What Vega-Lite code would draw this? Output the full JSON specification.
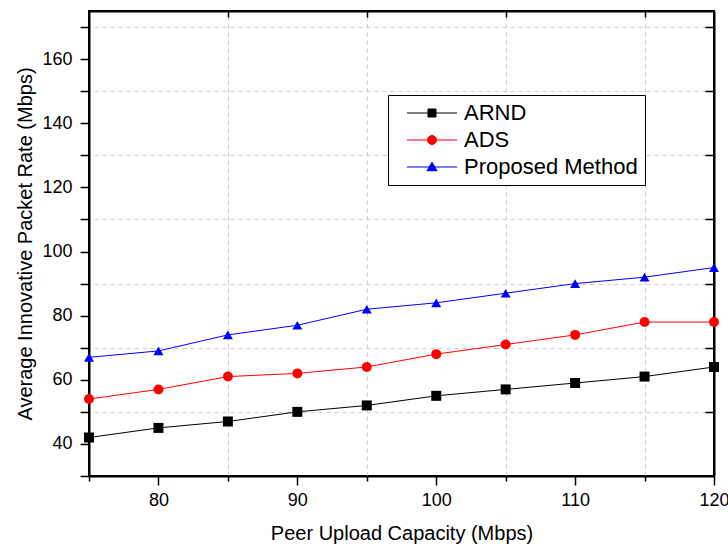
{
  "$schema": "https://vega.github.io/schema/vega-lite/v6.json",
  "width": 625,
  "height": 465,
  "autosize": {"type": "none"},
  "padding": {"left": 89, "top": 11, "right": 14, "bottom": 71},
  "background": "white",
  "config": {
    "font": "Liberation Sans",
    "view": {"stroke": "black", "strokeWidth": 2}
  },
  "data": {
    "values": [
      {"cap": 75, "rate": 42, "series": "ARND"},
      {"cap": 80, "rate": 45, "series": "ARND"},
      {"cap": 85, "rate": 47, "series": "ARND"},
      {"cap": 90, "rate": 50, "series": "ARND"},
      {"cap": 95, "rate": 52, "series": "ARND"},
      {"cap": 100, "rate": 55, "series": "ARND"},
      {"cap": 105, "rate": 57, "series": "ARND"},
      {"cap": 110, "rate": 59, "series": "ARND"},
      {"cap": 115, "rate": 61, "series": "ARND"},
      {"cap": 120, "rate": 64, "series": "ARND"},
      {"cap": 75, "rate": 54, "series": "ADS"},
      {"cap": 80, "rate": 57, "series": "ADS"},
      {"cap": 85, "rate": 61, "series": "ADS"},
      {"cap": 90, "rate": 62, "series": "ADS"},
      {"cap": 95, "rate": 64, "series": "ADS"},
      {"cap": 100, "rate": 68, "series": "ADS"},
      {"cap": 105, "rate": 71, "series": "ADS"},
      {"cap": 110, "rate": 74, "series": "ADS"},
      {"cap": 115, "rate": 78, "series": "ADS"},
      {"cap": 120, "rate": 78, "series": "ADS"},
      {"cap": 75, "rate": 67, "series": "Proposed Method"},
      {"cap": 80, "rate": 69, "series": "Proposed Method"},
      {"cap": 85, "rate": 74, "series": "Proposed Method"},
      {"cap": 90, "rate": 77, "series": "Proposed Method"},
      {"cap": 95, "rate": 82, "series": "Proposed Method"},
      {"cap": 100, "rate": 84, "series": "Proposed Method"},
      {"cap": 105, "rate": 87, "series": "Proposed Method"},
      {"cap": 110, "rate": 90, "series": "Proposed Method"},
      {"cap": 115, "rate": 92, "series": "Proposed Method"},
      {"cap": 120, "rate": 95, "series": "Proposed Method"}
    ]
  },
  "layer": [
    {
      "mark": {"type": "line", "strokeWidth": 1, "clip": true},
      "encoding": {
        "x": {
          "field": "cap", "type": "quantitative",
          "scale": {"domain": [75, 120], "nice": false, "zero": false},
          "axis": {
            "orient": "bottom",
            "title": "Peer Upload Capacity (Mbps)",
            "titleFontSize": 20, "titleFontWeight": "normal", "titleColor": "black", "titlePadding": 14,
            "values": [75, 80, 85, 90, 95, 100, 105, 110, 115, 120],
            "labelExpr": "datum.value % 10 === 0 ? datum.label : ''",
            "labelFontSize": 18, "labelColor": "black", "labelPadding": 6, "labelFlush": false,
            "tickColor": "black", "tickWidth": 1.5,
            "tickSize": {"condition": {"test": "datum.value % 10 !== 0", "value": 5}, "value": 9},
            "domain": true, "domainColor": "black", "domainWidth": 2,
            "grid": false
          }
        },
        "y": {
          "field": "rate", "type": "quantitative",
          "scale": {"domain": [30, 175], "nice": false, "zero": false},
          "axis": {
            "orient": "left",
            "title": "Average Innovative Packet Rate (Mbps)",
            "titleFontSize": 20, "titleFontWeight": "normal", "titleColor": "black", "titlePadding": 6,
            "values": [30, 40, 50, 60, 70, 80, 90, 100, 110, 120, 130, 140, 150, 160, 170],
            "labelExpr": "datum.value % 20 === 0 ? datum.label : ''",
            "labelFontSize": 18, "labelColor": "black", "labelPadding": 8,
            "tickColor": "black", "tickWidth": 1.5, "tickSize": 9,
            "domain": true, "domainColor": "black", "domainWidth": 2,
            "grid": false
          }
        },
        "color": {
          "field": "series", "type": "nominal",
          "scale": {"domain": ["ARND", "ADS", "Proposed Method"], "range": ["#000000", "#ff0000", "#0000ff"]},
          "legend": null
        },
        "detail": {"field": "series"}
      }
    },
    {
      "mark": {"type": "point", "filled": true, "opacity": 1, "size": 100, "clip": false},
      "encoding": {
        "x": {
          "field": "cap", "type": "quantitative",
          "axis": {
            "orient": "top", "title": null, "labels": false,
            "values": [85, 95, 105, 115],
            "tickColor": "black", "tickWidth": 1.5, "tickSize": -6,
            "domain": true, "domainColor": "black", "domainWidth": 2,
            "grid": true, "gridColor": "#cccccc", "gridDash": [4, 4], "gridWidth": 1
          }
        },
        "y": {
          "field": "rate", "type": "quantitative",
          "axis": {
            "orient": "right", "title": null, "labels": false,
            "values": [50, 70, 90, 110, 130, 150, 170],
            "tickColor": "black", "tickWidth": 1.5, "tickSize": -9,
            "domain": true, "domainColor": "black", "domainWidth": 2,
            "grid": true, "gridColor": "#cccccc", "gridDash": [4, 4], "gridWidth": 1
          }
        },
        "color": {"field": "series", "type": "nominal", "legend": null},
        "shape": {
          "field": "series", "type": "nominal",
          "scale": {"domain": ["ARND", "ADS", "Proposed Method"], "range": ["square", "circle", "triangle-up"]},
          "legend": null
        }
      }
    },
    {
      "transform": [{"filter": "false"}],
      "mark": {"type": "point", "filled": true, "opacity": 1, "size": 100, "strokeWidth": 1},
      "encoding": {
        "x": {"field": "cap", "type": "quantitative", "axis": null},
        "y": {"field": "rate", "type": "quantitative", "axis": null},
        "fill": {
          "field": "series", "type": "nominal",
          "scale": {"domain": ["ARND", "ADS", "Proposed Method"], "range": ["#000000", "#ff0000", "#0000ff"]},
          "legend": {"title": null, "orient": "none", "legendX": 299, "legendY": 84}
        },
        "stroke": {
          "field": "series", "type": "nominal",
          "scale": {"domain": ["ARND", "ADS", "Proposed Method"], "range": ["#000000", "#ff0000", "#0000ff"]},
          "legend": {"title": null, "orient": "none", "legendX": 299, "legendY": 84}
        },
        "shape": {
          "field": "series", "type": "nominal",
          "scale": {
            "domain": ["ARND", "ADS", "Proposed Method"],
            "range": [
              "M-5,0H5M-0.8,-0.8H0.8V0.8H-0.8Z",
              "M-0.9,0A0.9,0.9 0 1,0 0.9,0A0.9,0.9 0 1,0 -0.9,0ZM-5,0H5",
              "M0,-0.95L1,0.75H-1ZM-5,0H5"
            ]
          },
          "legend": {
            "title": null,
            "orient": "none", "legendX": 299, "legendY": 84,
            "strokeColor": "black", "fillColor": "white", "padding": 7,
            "labelFontSize": 22, "labelColor": "black", "labelFont": "Liberation Sans", "labelLimit": 400,
            "symbolSize": 100, "symbolStrokeWidth": 1, "symbolOffset": 26, "labelOffset": 21,
            "rowPadding": 5
          }
        }
      }
    }
  ],
  "resolve": {"scale": {"shape": "independent", "fill": "independent", "stroke": "independent"}}
}
